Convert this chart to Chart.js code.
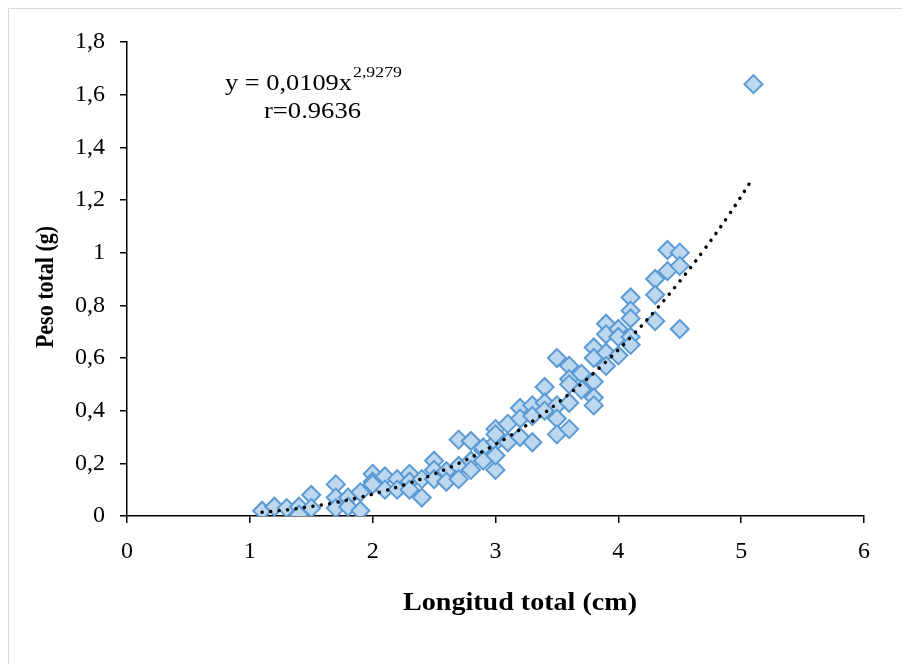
<!DOCTYPE html>
<html>
<head>
<meta charset="utf-8">
<script src="https://cdn.jsdelivr.net/npm/chart.js@4.4.0/dist/chart.umd.min.js"></script>
<style>
  html, body { margin: 0; padding: 0; background: #fff; }
  #wrap { width: 902px; height: 664px; }
</style>
</head>
<body>
<div id="wrap"><canvas id="pesoChart" width="902" height="664"></canvas></div>
<script>
// Datos: longitud total (cm) y peso total (g) de cada ejemplar
const longitud = [
  1.1, 1.2, 1.3, 1.4, 1.4, 1.5, 1.5, 1.7, 1.7, 1.7,
  1.8, 1.8, 1.9, 1.9, 2.0, 2.0, 2.0, 2.1, 2.1, 2.2,
  2.2, 2.3, 2.3, 2.3, 2.4, 2.4, 2.5, 2.5, 2.5, 2.6,
  2.6, 2.7, 2.7, 2.7, 2.8, 2.8, 2.8, 2.9, 2.9, 2.9,
  3.0, 3.0, 3.0, 3.0, 3.0, 3.1, 3.1, 3.2, 3.2, 3.2,
  3.3, 3.3, 3.3, 3.4, 3.4, 3.4, 3.5, 3.5, 3.5, 3.5,
  3.6, 3.6, 3.6, 3.6, 3.6, 3.7, 3.7, 3.8, 3.8, 3.8,
  3.8, 3.8, 3.9, 3.9, 3.9, 3.9, 4.0, 4.0, 4.0, 4.1,
  4.1, 4.1, 4.1, 4.1, 4.3, 4.3, 4.3, 4.4, 4.4, 4.5,
  4.5, 4.5, 5.1
];
const peso = [
  0.02, 0.035, 0.03, 0.035, 0.005, 0.08, 0.03, 0.12, 0.07, 0.03,
  0.07, 0.035, 0.09, 0.02, 0.16, 0.13, 0.12, 0.15, 0.10, 0.14,
  0.10, 0.16, 0.13, 0.10, 0.07, 0.14, 0.21, 0.175, 0.14, 0.17,
  0.13, 0.29, 0.19, 0.14, 0.285, 0.21, 0.175, 0.25, 0.26, 0.21,
  0.33, 0.28, 0.31, 0.175, 0.23, 0.35, 0.28, 0.41, 0.37, 0.30,
  0.42, 0.38, 0.28, 0.49, 0.43, 0.40, 0.60, 0.42, 0.37, 0.31,
  0.57, 0.52, 0.50, 0.43, 0.33, 0.54, 0.48, 0.64, 0.60, 0.51,
  0.45, 0.42, 0.73, 0.69, 0.62, 0.57, 0.71, 0.68, 0.61, 0.83,
  0.78, 0.75, 0.68, 0.65, 0.90, 0.84, 0.74, 1.01, 0.93, 1.00,
  0.95, 0.71, 1.64
];

// Ejes
const xTicks = [0, 1, 2, 3, 4, 5, 6];
const xTickLabels = ['0', '1', '2', '3', '4', '5', '6'];
const yTicks = [0, 0.2, 0.4, 0.6, 0.8, 1, 1.2, 1.4, 1.6, 1.8];
const yTickLabels = ['0', '0,2', '0,4', '0,6', '0,8', '1', '1,2', '1,4', '1,6', '1,8'];

// Línea de tendencia potencial y = a * x^b
const coefA = 0.0109;
const coefB = 2.9279;
const trendX = [1.1, 1.3, 1.5, 1.7, 1.9, 2.1, 2.3, 2.5, 2.7, 2.9, 3.1, 3.3, 3.5, 3.7, 3.9, 4.1, 4.3, 4.5, 4.7, 4.9, 5.1];

const FONT = "'Liberation Serif', 'Times New Roman', serif";

// dibuja texto ajustado en horizontal hasta un ancho dado
function stretchText(c, text, x, y, font, width) {
  c.font = font;
  const sx = width / c.measureText(text).width;
  c.save();
  c.translate(x, y);
  c.scale(sx, 1);
  c.textAlign = 'left';
  c.fillText(text, 0, 0);
  c.restore();
}

// Marco, títulos de ejes y ecuación
const decorPlugin = {
  id: 'decor',
  beforeDraw(chart) {
    const c = chart.ctx;
    c.save();
    c.fillStyle = '#fff';
    c.fillRect(0, 0, chart.width, chart.height);
    c.strokeStyle = '#d9d9d9';
    c.lineWidth = 1;
    c.beginPath();
    c.moveTo(8.5, chart.height);
    c.lineTo(8.5, 8.5);
    c.lineTo(chart.width, 8.5);
    c.stroke();
    c.restore();
  },
  afterDraw(chart) {
    const c = chart.ctx;
    c.save();
    c.fillStyle = '#000';
    c.textBaseline = 'alphabetic';

    // título eje x
    stretchText(c, 'Longitud total (cm)', 403, 610, 'bold 25px ' + FONT, 234);

    // título eje y
    c.save();
    c.translate(53, 287);
    c.scale(1.12, 1);
    c.rotate(-Math.PI / 2);
    c.font = 'bold 22px ' + FONT;
    c.textAlign = 'center';
    c.fillText('Peso total (g)', 0, 0);
    c.restore();

    // ecuación
    stretchText(c, 'y = 0,0109x', 225, 90, '23px ' + FONT, 127);
    stretchText(c, '2,9279', 353, 77, '15px ' + FONT, 49);
    stretchText(c, 'r=0.9636', 264, 118, '23px ' + FONT, 97);
    c.restore();
  }
};

const ctx = document.getElementById('pesoChart').getContext('2d');
new Chart(ctx, {
  type: 'scatter',
  data: {
    datasets: [
      {
        type: 'line',
        label: 'Tendencia',
        data: trendX.map(x => ({ x: x, y: coefA * Math.pow(x, coefB) })),
        borderColor: '#000',
        borderWidth: 3.5,
        borderDash: [0.1, 8.4],
        borderCapStyle: 'round',
        pointRadius: 0,
        fill: false,
        tension: 0.4,
        order: 0
      },
      {
        label: 'Peso total',
        data: longitud.map((x, i) => ({ x: x, y: peso[i] })),
        pointStyle: 'rectRot',
        pointRadius: 9,
        pointBackgroundColor: '#bdd7ee',
        pointBorderColor: '#5b9bd5',
        pointBorderWidth: 2,
        order: 1
      }
    ]
  },
  options: {
    responsive: false,
    animation: false,
    devicePixelRatio: 1,
    layout: { padding: { top: 42, right: 38, left: 0, bottom: 0 } },
    plugins: {
      legend: { display: false },
      tooltip: { enabled: false }
    },
    scales: {
      x: {
        type: 'linear',
        min: 0,
        max: 6,
        afterBuildTicks: s => { s.ticks = xTicks.map(v => ({ value: v })); },
        afterFit: s => { s.height = 148; },
        ticks: {
          callback: (v, i) => xTickLabels[i],
          font: { family: FONT, size: 24 },
          color: '#000',
          padding: 14,
          maxRotation: 0,
          autoSkip: false
        },
        grid: { drawOnChartArea: false, color: '#000', tickLength: 7, lineWidth: 1.5 },
        border: { color: '#000', width: 1.5 }
      },
      y: {
        type: 'linear',
        min: 0,
        max: 1.8,
        afterBuildTicks: s => { s.ticks = yTicks.map(v => ({ value: v })); },
        afterFit: s => { s.width = 127; },
        ticks: {
          callback: (v, i) => yTickLabels[i],
          font: { family: FONT, size: 24 },
          color: '#000',
          padding: 15,
          autoSkip: false
        },
        grid: { drawOnChartArea: false, color: '#000', tickLength: 7, lineWidth: 1.5 },
        border: { color: '#000', width: 1.5 }
      }
    }
  },
  plugins: [decorPlugin]
});
</script>
</body>
</html>
